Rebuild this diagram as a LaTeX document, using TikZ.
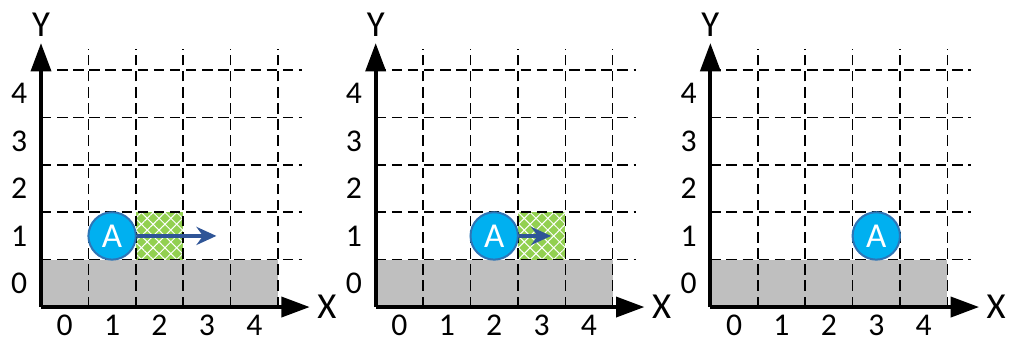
\documentclass[tikz,border=0pt]{standalone}
\usepackage{fontspec}
\setmainfont{Carlito}
\usetikzlibrary{arrows.meta,patterns.meta}
\definecolor{pgrey}{HTML}{BFBFBF}
\definecolor{pgreen}{HTML}{92D050}
\definecolor{pcyan}{HTML}{00B0F0}
\definecolor{pedge}{HTML}{2E75B6}
\definecolor{parrow}{HTML}{2F5597}

\begin{document}
\begin{tikzpicture}[
  gridline/.style={black, line width=0.9pt, dash pattern=on 0.22cm off 0.12cm},
  axis/.style={line width=2.4pt, -{Triangle[length=0.6cm, width=0.42cm]}},
  num/.style={font=\fontsize{19}{19}\selectfont, inner sep=1pt},
  axlbl/.style={font=\fontsize{22}{22}\selectfont, inner sep=1pt},
  ball/.style={circle, draw=pedge, line width=1.2pt, fill=pcyan, text=white,
               minimum size=1cm, inner sep=0pt, font=\fontsize{21}{21}\selectfont},
  move/.style={parrow, line width=2.4pt, -{Stealth[length=0.42cm, width=0.38cm]}},
  block/.style={fill=pgreen,
    postaction={pattern={Lines[angle=45, distance=5pt, line width=0.6pt]}, pattern color=white},
    postaction={pattern={Lines[angle=-45, distance=5pt, line width=0.6pt]}, pattern color=white}},
]
\useasboundingbox (-0.865,-0.738) rectangle (20.42,6.477);

% ---- green blocks (under the grid) ----
\path[block] (2,1) rectangle (3,2);
\path[block] (7.06+3,1) rectangle (7.06+4,2);

% ---- three panels: ground, grid, axes, numbers ----
\foreach \p in {1,2,3} {
  \begin{scope}[xshift={(\p-1)*7.06cm}]
    \fill[pgrey] (0,0) rectangle (5,1);
    \foreach \k in {1,...,5} {
      \draw[gridline] (\k,0) -- (\k,5.45);
      \draw[gridline] (0,\k) -- (5.5,\k);
    }
    \coordinate (o\p) at (0,0);
    \coordinate (xe\p) at (5.67,0);
    \coordinate (ye\p) at (0,5.57);
    \draw[axis] (o\p) -- (xe\p);
    \draw[axis] (o\p) -- (ye\p);
    \node[axlbl] (xl\p) at (6.03,0) {X};
    \node[axlbl] (yl\p) at (0,5.95) {Y};
    \foreach \k in {0,...,4} {
      \node[num] (xn\p\k) at (\k+0.5,-0.38) {\k};
      \node[num] (yn\p\k) at (-0.46,\k+0.5) {\k};
    }
  \end{scope}
}

% ---- panel 1 ----
\node[ball] (a1) at (1.5,1.5) {A};
\coordinate (t1) at (3.7,1.5);
\draw[move] (a1) -- (t1);

% ---- panel 2 ----
\node[ball] (a2) at (7.06+2.5,1.5) {A};
\coordinate (t2) at (7.06+3.7,1.5);
\draw[move] (a2) -- (t2);

% ---- panel 3 ----
\node[ball] (a3) at (14.12+3.5,1.5) {A};

\end{tikzpicture}
\end{document}
